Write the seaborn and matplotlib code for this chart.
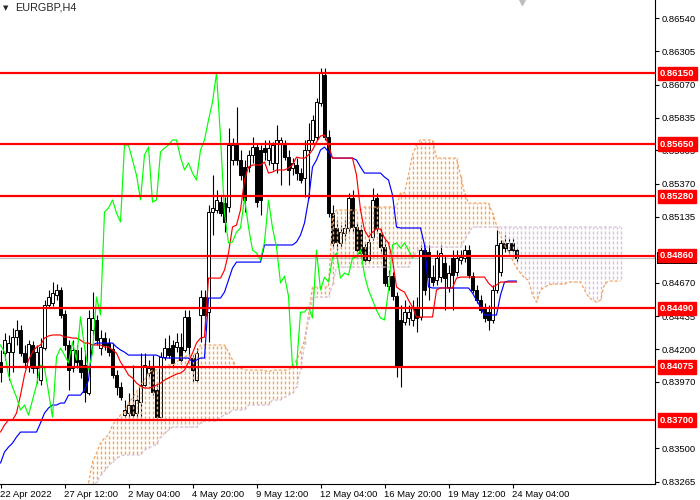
import numpy as np
import pandas as pd
import matplotlib
matplotlib.use("Agg")
import matplotlib.pyplot as plt
import matplotlib.patches as mpatches
from matplotlib.collections import LineCollection
import seaborn as sns

# EURGBP H4, prices in points (1e-5)
opens = np.array([
    84110, 84173, 84180, 84180, 84286, 84336, 84173, 84081, 84230, 84067,
    83982, 84209, 84513, 84527, 84583, 84619, 84449, 84230, 84067, 84195,
    84124, 84089, 83891, 84336, 84407, 84209, 84279, 84244, 84202, 84018,
    83933, 83735, 83749, 83806, 83749, 83827, 83947, 84032, 84067, 83912,
    83721, 84145, 84209, 84230, 84216, 84216, 84195, 84428, 84138, 83982,
    84442, 84569, 84463, 85170, 85184, 85240, 85233, 85205, 85537, 85643,
    85537, 85488, 85488, 85573, 85629, 85608, 85622, 85537, 85516, 85516,
    85657, 85643, 85558, 85481, 85502, 85445, 85410, 85608, 85679, 85700,
    85940, 86138, 85700, 85163, 85057, 84951, 85021, 85057, 85269, 85064,
    85043, 84922, 84831, 84993, 85269, 85021, 84922, 84647, 84717, 84576,
    84407, 84392, 84421, 84407, 84498, 84428, 84901, 84887, 84710, 84689,
    84710, 84809, 84640, 84845, 84746, 84831, 84845, 84901, 84717, 84619,
    84548, 84491, 84463, 84407, 84619, 84746, 84951, 84901, 84951, 84901]) / 1e5
highs = np.array([
    84195, 84315, 84301, 84350, 84407, 84371, 84230, 84265, 84258, 84230,
    84279, 84548, 84619, 84675, 84661, 84640, 84477, 84265, 84265, 84230,
    84216, 84195, 84477, 84604, 84442, 84336, 84322, 84279, 84244, 84053,
    83968, 83841, 83891, 84089, 83876, 84173, 84173, 84124, 84159, 83947,
    84180, 84279, 84301, 84265, 84315, 84315, 84477, 84477, 84159, 84209,
    84619, 84619, 85219, 85431, 85325, 85290, 85276, 85763, 85693, 85912,
    85608, 85537, 85608, 85700, 85657, 85643, 85679, 85679, 85664, 85785,
    85700, 85679, 85608, 85551, 85551, 85481, 85679, 85799, 85855, 85975,
    86187, 86187, 85749, 85219, 85113, 85078, 85113, 85304, 85325, 85099,
    85078, 84958, 85000, 85339, 85304, 85057, 84972, 84760, 84746, 84604,
    84513, 84548, 84513, 84548, 84569, 84937, 84937, 84937, 84795, 84901,
    84937, 84866, 84795, 84901, 84901, 84901, 84937, 84937, 84746, 84654,
    84583, 84527, 84513, 84654, 85043, 84972, 85007, 84986, 84986, 84922]) / 1e5
lows = np.array([
    83968, 84124, 83982, 84039, 84230, 84152, 84067, 84039, 84032, 83961,
    83947, 84195, 84498, 84506, 84548, 84421, 84195, 83912, 84039, 84067,
    83997, 83827, 83876, 84301, 84230, 84159, 84195, 84152, 83997, 83876,
    83841, 83714, 83700, 83700, 83714, 83700, 83933, 83997, 83876, 83707,
    83707, 84124, 84138, 84081, 84180, 84096, 84180, 84152, 83968, 83968,
    84251, 84336, 84251, 85007, 85163, 85142, 85028, 85170, 85502, 85502,
    85396, 85170, 85452, 85516, 85205, 85149, 85537, 85502, 85467, 85445,
    85361, 85537, 85361, 85431, 85396, 85375, 85276, 85269, 85657, 85679,
    85919, 85679, 85134, 84922, 84901, 84915, 84972, 85028, 85028, 84873,
    84845, 84802, 84809, 84972, 85021, 84887, 84647, 84619, 84548, 84004,
    83933, 84371, 84371, 84364, 84322, 84407, 84583, 84548, 84647, 84654,
    84675, 84477, 84604, 84477, 84717, 84802, 84816, 84703, 84597, 84527,
    84456, 84392, 84336, 84385, 84597, 84717, 84887, 84880, 84880, 84816]) / 1e5
closes = np.array([
    84039, 84265, 84244, 84286, 84336, 84173, 84110, 84237, 84067, 84180,
    84216, 84513, 84569, 84597, 84619, 84442, 84230, 84053, 84195, 84110,
    84039, 83898, 84421, 84421, 84265, 84279, 84230, 84180, 84018, 83933,
    83862, 83770, 83806, 83735, 83841, 83947, 84089, 84067, 83898, 83721,
    84145, 84209, 84159, 84103, 84251, 84124, 84428, 84216, 84053, 84173,
    84569, 84442, 85170, 85198, 85255, 85163, 85099, 85643, 85643, 85537,
    85431, 85255, 85573, 85629, 85240, 85255, 85594, 85622, 85643, 85679,
    85679, 85558, 85467, 85516, 85445, 85396, 85608, 85679, 85820, 85947,
    86152, 85700, 85163, 84951, 84958, 85028, 85057, 85269, 85064, 84901,
    84880, 84831, 84958, 85255, 85057, 84922, 84668, 84717, 84576, 84074,
    84074, 84463, 84463, 84498, 84421, 84901, 84619, 84710, 84675, 84845,
    84880, 84703, 84739, 84725, 84845, 84852, 84901, 84725, 84619, 84548,
    84477, 84421, 84407, 84619, 84937, 84951, 84915, 84951, 84901, 84845]) / 1e5

tenkan = np.array([
    83615, 83665, 83700, 83700, 83749, 83876, 84018, 84124, 84180, 84216,
    84230, 84279, 84294, 84301, 84301, 84301, 84286, 84286, 84279, 84279,
    84265, 84244, 84244, 84230, 84230, 84230, 84216, 84216, 84195, 84173,
    84110, 84067, 84018, 83997, 83961, 83940, 83926, 83926, 83933, 83947,
    83961, 83982, 83997, 84011, 84025, 84032, 84053, 84110, 84173, 84244,
    84279, 84286, 84703, 84703, 84703, 84703, 84760, 84880, 85064, 85078,
    85184, 85396, 85488, 85502, 85502, 85502, 85523, 85445, 85452, 85467,
    85467, 85467, 85481, 85502, 85558, 85551, 85551, 85573, 85608, 85664,
    85707, 85714, 85643, 85551, 85551, 85551, 85551, 85551, 85551, 85431,
    85184, 85043, 84993, 85028, 85050, 85050, 84986, 84951, 84831, 84640,
    84619, 84604, 84548, 84498, 84428, 84428, 84428, 84428, 84428, 84619,
    84633, 84633, 84633, 84633, 84703, 84710, 84710, 84710, 84710, 84710,
    84710, 84710, 84668, 84640, 84654, 84675, 84675, 84675, 84675, 84675]) / 1e5
kijun = np.array([
    83396, 83474, 83509, 83537, 83580, 83615, 83615, 83615, 83615, 83615,
    83679, 83749, 83785, 83806, 83806, 83820, 83820, 83876, 83876, 83876,
    83876, 83912, 83982, 84230, 84244, 84244, 84244, 84244, 84244, 84216,
    84195, 84180, 84159, 84159, 84159, 84159, 84159, 84159, 84159, 84159,
    84145, 84138, 84138, 84138, 84138, 84138, 84138, 84138, 84110, 84124,
    84138, 84138, 84562, 84562, 84562, 84562, 84604, 84689, 84774, 84816,
    84816, 84816, 84816, 84816, 84816, 84816, 84937, 84937, 84937, 84937,
    84937, 84937, 84937, 84937, 84958, 85007, 85092, 85255, 85488, 85537,
    85608, 85629, 85594, 85551, 85551, 85551, 85551, 85551, 85551, 85537,
    85488, 85445, 85445, 85445, 85445, 85445, 85417, 85396, 85290, 85064,
    85057, 85057, 85057, 85057, 85057, 85057, 84937, 84640, 84633, 84633,
    84633, 84633, 84633, 84633, 84633, 84633, 84633, 84633, 84597, 84548,
    84498, 84442, 84442, 84442, 84442, 84583, 84675, 84682, 84682, 84682]) / 1e5

# Senkou spans start at bar 22 (earlier part is below the visible range)
span_start = 22
span_a = np.array([
    83255, 83403, 83467, 83537, 83573, 83594, 83665, 83700, 83735, 83756,
    83820, 83855, 83898, 83947, 83982, 84032, 84053, 84053, 84074, 84074,
    84089, 84089, 84103, 84145, 84145, 84159, 84159, 84173, 84230, 84230,
    84230, 84230, 84230, 84230, 84230, 84180, 84124, 84074, 84067, 84053,
    84053, 84053, 84053, 84053, 84053, 84039, 84053, 84053, 84053, 84053,
    84053, 84074, 84124, 84180, 84265, 84442, 84640, 84640, 84640, 84640,
    84640, 85134, 85184, 85184, 85184, 85184, 85184, 85184, 85184, 85205,
    85205, 85205, 85205, 85205, 85205, 85205, 85205, 85205, 85304, 85304,
    85431, 85573, 85643, 85679, 85679, 85679, 85679, 85551, 85551, 85551,
    85551, 85551, 85551, 85431, 85304, 85233, 85233, 85233, 85233, 85233,
    85233, 85163, 85078, 85007, 84937, 84887, 84831, 84774, 84739, 84703,
    84689, 84583, 84534, 84619, 84640, 84654, 84661, 84661, 84661, 84661,
    84675, 84675, 84675, 84675, 84619, 84569, 84548, 84534, 84548, 84661,
    84682, 84682, 84682, 84682]) / 1e5
span_b = np.array([
    83191, 83219, 83262, 83304, 83339, 83375, 83403, 83431, 83445, 83453,
    83453, 83453, 83453, 83453, 83488, 83502, 83516, 83530, 83580, 83608,
    83629, 83650, 83650, 83650, 83650, 83650, 83650, 83650, 83679, 83693,
    83693, 83693, 83693, 83721, 83735, 83749, 83770, 83770, 83770, 83770,
    83806, 83806, 83806, 83806, 83806, 83806, 83841, 83841, 83841, 83862,
    83876, 83891, 83933, 84053, 84230, 84407, 84562, 84569, 84569, 84569,
    84569, 84654, 84781, 84781, 84781, 84781, 84781, 84781, 84781, 84781,
    84781, 84781, 84781, 84781, 84781, 84781, 84781, 84781, 84781, 84781,
    84781, 84852, 84887, 84922, 84922, 84922, 84922, 84922, 84922, 84922,
    84922, 84922, 84922, 84922, 84972, 85021, 85064, 85064, 85064, 85064,
    85064, 85064, 85064, 85064, 85064, 85064, 85064, 85064, 85064, 85064,
    85064, 85064, 85064, 85064, 85064, 85064, 85064, 85064, 85064, 85064,
    85064, 85064, 85064, 85064, 85064, 85064, 85064, 85064, 85064, 85064,
    85064, 85064, 85064, 85064]) / 1e5

levels = [0.86150, 0.85650, 0.85280, 0.84860, 0.84490, 0.84075, 0.83700]
# 0.84900 and 0.83735 sit fully under the red level boxes, so they are not shown
price_ticks = [0.86540, 0.86305, 0.86070, 0.85835, 0.85605, 0.85370, 0.85135,
               0.84670, 0.84435, 0.84200, 0.83970, 0.83500, 0.83265]
date_bars = [0, 16, 32, 48, 64, 80, 96, 112, 128]
date_labels = ["22 Apr 2022", "27 Apr 12:00", "2 May 04:00", "4 May 20:00",
               "9 May 12:00", "12 May 04:00", "16 May 20:00", "19 May 12:00",
               "24 May 04:00"]
chikou_shift = 26

BULL_KUMO = (0.957, 0.643, 0.376)   # sandy brown
BEAR_KUMO = (0.847, 0.749, 0.847)   # thistle
Y_LO, Y_HI = 0.83248, 0.86668

sns.set_style("white")
plt.rcParams["font.family"] = ["Liberation Sans", "DejaVu Sans"]
plt.rcParams["lines.scale_dashes"] = False

fig = plt.figure(figsize=(7, 5), dpi=100)
ax = fig.add_axes([0, 16 / 500, 655 / 700, 484 / 500])

bars = np.arange(len(closes))
PX = 0.72  # one pixel in points
dots = (0, (3 * PX, 2 * PX))

# candles
ax.vlines(bars, lows, highs, color="black", lw=0.8, zorder=2)
body = np.maximum(np.abs(closes - opens), 0.00002)
body_col = ["white" if c >= o else "black" for o, c in zip(opens, closes)]
ax.bar(bars, body, bottom=np.minimum(opens, closes), width=0.72,
       color=body_col, edgecolor="black", linewidth=0.7, zorder=3)

# kumo: short solid 1px dashes on a common 5px grid between the spans
span_x = np.arange(span_start, span_start + len(span_a))
bull = span_a >= span_b
lo = np.minimum(span_a, span_b)
hi = np.maximum(span_a, span_b)
step = (Y_HI - Y_LO) / 484            # price per pixel
segs, seg_cols = [], []
for x, y0, y1, up in zip(span_x, lo, hi, bull):
    k0 = int(np.floor((y0 - Y_LO) / step / 5))
    k1 = int(np.ceil((y1 - Y_LO) / step / 5))
    for k in range(k0, k1 + 1):
        d0 = max(Y_LO + 5 * k * step, y0)
        d1 = min(Y_LO + (5 * k + 3) * step, y1)
        if d1 > d0:
            segs.append([(x + 0.125, d0), (x + 0.125, d1)])
            seg_cols.append(BULL_KUMO if up else BEAR_KUMO)
ax.add_collection(LineCollection(segs, colors=seg_cols, linewidths=1.0,
                                 antialiaseds=True, zorder=4))

spans = pd.DataFrame({"bar": span_x, "a": span_a, "b": span_b})
sns.lineplot(data=spans, x="bar", y="a", color=BULL_KUMO, lw=0.9,
             linestyle=dots, ax=ax, zorder=4)
sns.lineplot(data=spans, x="bar", y="b", color=BEAR_KUMO, lw=0.9,
             linestyle=dots, ax=ax, zorder=4)

lines = pd.DataFrame({"bar": bars, "tenkan": tenkan, "kijun": kijun})
sns.lineplot(data=lines, x="bar", y="kijun", color="#0000FF", lw=0.85, ax=ax, zorder=5)
sns.lineplot(data=lines, x="bar", y="tenkan", color="#FF0000", lw=0.85, ax=ax, zorder=5)
chikou = pd.DataFrame({"bar": bars[:-chikou_shift], "close": closes[chikou_shift:]})
sns.lineplot(data=chikou, x="bar", y="close", color="#00FF00", lw=0.85, ax=ax, zorder=5)

# bid line and levels
ax.axhline(closes[-1], color="#C0C0C0", lw=0.8, zorder=1)
for lv in levels:
    ax.axhline(lv, color="#FF0000", lw=1.6, zorder=6)

ax.set_xlim(-0.125, 163.625)
ax.set_ylim(Y_LO, Y_HI)

ax.yaxis.tick_right()
ax.set_yticks(price_ticks)
ax.set_yticklabels([f"{t:.5f}" for t in price_ticks])
ax.set_xticks(date_bars)
ax.set_xticklabels(date_labels, ha="left")
ax.tick_params(axis="y", direction="out", length=3, width=0.8, pad=1.5,
               labelsize=6.8, colors="black", right=True, left=False)
ax.tick_params(axis="x", direction="out", length=3, width=0.8, pad=1.5,
               labelsize=6.8, colors="black", bottom=True)
ax.set_xlabel("")
ax.set_ylabel("")
for side in ["top", "left"]:
    ax.spines[side].set_visible(False)
for side in ["right", "bottom"]:
    ax.spines[side].set_color("black")
    ax.spines[side].set_linewidth(0.8)

# bid price tag, mostly hidden behind the 0.84860 box
ytr = ax.get_yaxis_transform()
ax.add_patch(mpatches.Rectangle((1 + 2 / 655, closes[-1] - 0.00040), 40 / 655,
                                0.00080, transform=ytr, fc="black", ec="none",
                                clip_on=False, zorder=7))
for lv in levels:
    ax.text(1 + 5 / 655, lv, f"{lv:.5f}", transform=ytr, color="white",
            fontsize=6.8, fontweight="bold", va="center", ha="left",
            clip_on=False, zorder=8,
            bbox=dict(boxstyle="square,pad=0.22", fc="#FF0000", ec="#FF0000"))

# header and chart-shift marker
fig.text(3 / 700, 1 - 8 / 500, "\u25bc", fontsize=5, va="center", ha="left",
         family=["DejaVu Sans"])
fig.text(15 / 700, 1 - 8 / 500, "EURGBP,H4", fontsize=7.8, va="center", ha="left")
ax.plot([130.3], [Y_HI], marker="v", color="#BEBEBE", markersize=7,
        clip_on=False, zorder=9)

fig.savefig("out.png", dpi=100)
